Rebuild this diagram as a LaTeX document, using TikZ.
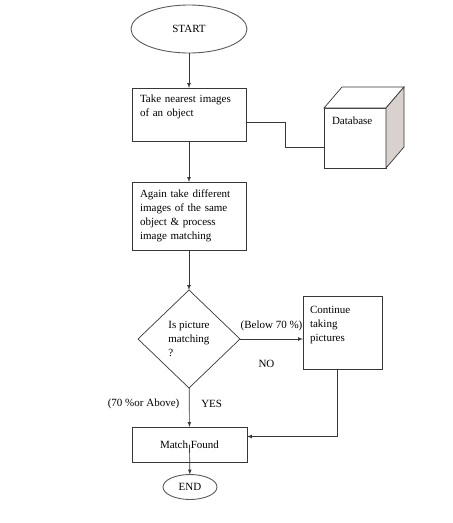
\documentclass[tikz,border=0pt]{standalone}
\usepackage{fontspec}
\setmainfont{Liberation Serif}
\usetikzlibrary{shapes,arrows}
\definecolor{lineGray}{RGB}{55,55,55}
\definecolor{ovalGray}{RGB}{90,90,90}
\definecolor{cubeGray}{RGB}{216,209,205}

\begin{document}
\begin{tikzpicture}[x=1pt, y=-1pt, auto]%
  \tikzset{normal arrow/.style={draw,-latex,line width=0.7pt,lineGray}}
  \tikzset{plain line/.style={draw,line width=0.7pt,lineGray}}
  \tikzstyle{every node}=[font=\fontsize{11}{14}\selectfont, text=black, inner sep=0pt, outer sep=0pt]
  \tikzstyle{box}=[draw=lineGray, line width=0.7pt, rectangle, align=left, anchor=north west, inner xsep=8pt]
  \tikzstyle{oval}=[draw=ovalGray, line width=0.9pt, ellipse]

  \useasboundingbox (0,0) rectangle (453,523);

  \node[oval, minimum width=116pt, minimum height=48pt] at (189,29) (START) {START};
  \node[box, minimum width=114pt, minimum height=53pt, text width=98pt] at (132,88) (TAKE) {Take nearest images\\of an object\\ \strut};
  \node[box, minimum width=114pt, minimum height=68pt, text width=98pt] at (132,182) (AGAIN) {Again take different\\images of the same\\object \& process\\image matching};
  \node[diamond, draw=lineGray, line width=0.7pt, minimum width=102pt, minimum height=98pt, align=left] at (189,339) (DEC) {Is picture\\matching\\?};
  \node[box, minimum width=79pt, minimum height=73pt, text width=65pt, inner xsep=7pt] at (303,296) (CONT) {Continue\\taking\\pictures\\ \strut};
  \node[box, minimum width=115pt, minimum height=35pt] at (132,427) (MATCH) {Match Found};
  \node[oval, minimum width=54pt, minimum height=25pt] at (190,487) (END) {END};

  % database cube
  \node[draw=lineGray, line width=0.7pt, fill=white, minimum width=62pt, minimum height=60pt, anchor=north west,
        label={[anchor=north west, xshift=8pt, yshift=-9pt]north west:Database}] at (324,108) (DB) {};
  \path[plain line, fill=white] (DB.north west) -- ++(18,-21) -- ++(62,0) -- (DB.north east) -- cycle;
  \path[plain line, fill=cubeGray] (DB.north east) -- ++(18,-21) -- ++(0,60) -- (DB.south east) -- cycle;

  \path[normal arrow] (START) -- (TAKE);
  \path[normal arrow] (TAKE) -- (AGAIN);
  \path[normal arrow] (AGAIN) -- (DEC);
  \path[plain line] ([yshift=-8pt]TAKE.east) -- ++(39,0) |- ([yshift=-9pt]DB.west);
  \path[normal arrow] (DEC.east) -- node[midway, above=8pt] {(Below 70 \%)} node[pos=0.42, below=21pt] {NO} (CONT.west |- DEC.east);
  \path[normal arrow] (DEC) -- node[pos=0.4, left=10pt] {(70 \%or Above)} node[pos=0.4, right=12pt] {YES} (MATCH);
  \path[normal arrow] ([xshift=-5pt]CONT.south) |- ([yshift=8pt]MATCH.east);
  \path[normal arrow] (MATCH.center) -- (END);
\end{tikzpicture}
\end{document}
